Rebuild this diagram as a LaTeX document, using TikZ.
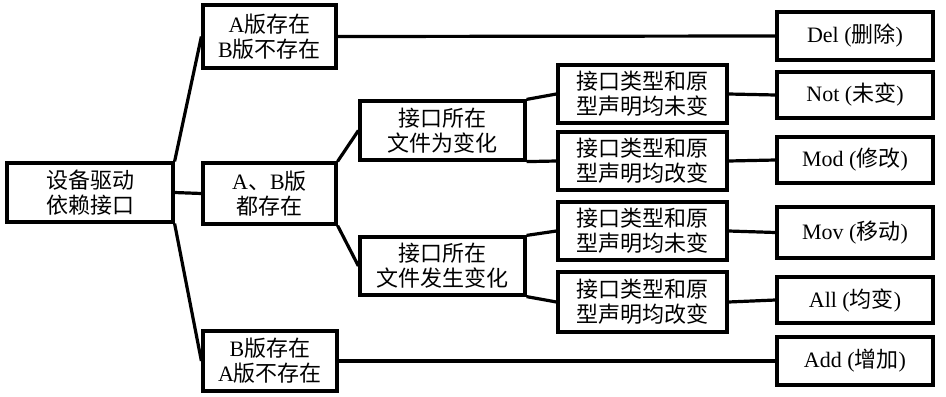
\documentclass[tikz,border=0pt]{standalone}
\usepackage{fontspec}
\setmainfont{Noto Sans CJK SC}
\newfontfamily\lat{Liberation Serif}
\usetikzlibrary{positioning}

\begin{document}
\begin{tikzpicture}[x=0.5pt, y=-0.5pt, font=\fontsize{11}{12.5}\selectfont,
  line width=1.6pt,
  tbox/.style={draw, align=center, inner sep=0pt, line width=1.6pt},
  rbox/.style={tbox, minimum width=78pt, minimum height=24pt}]
  \useasboundingbox (0,0) rectangle (946,396);
  % tree
  \node[tbox, minimum width=83pt, minimum height=29.5pt] at (90,192.5) (root) {设备驱动\\依赖接口};
  \node[tbox, minimum width=66.5pt, minimum height=31.5pt] at (269.5,36.5) (aonly) {{\lat A}版存在\\{\lat B}版不存在};
  \node[tbox, minimum width=66.5pt, minimum height=30.5pt] at (269.5,193.5) (ab) {{\lat A}、{\lat B}版\\都存在};
  \node[tbox, minimum width=67pt, minimum height=30pt] at (270,361) (bonly) {{\lat B}版存在\\{\lat A}版不存在};
  \node[tbox, minimum width=82.5pt, minimum height=29.5pt] at (442.5,130.5) (same) {接口所在\\文件为变化};
  \node[tbox, minimum width=82.5pt, minimum height=29pt] at (442.5,266) (moved) {接口所在\\文件发生变化};
  \node[tbox, minimum width=84.5pt, minimum height=29pt] at (642.5,94) (l1) {接口类型和原\\型声明均未变};
  \node[tbox, minimum width=84.5pt, minimum height=29pt] at (642.5,161) (l2) {接口类型和原\\型声明均改变};
  \node[tbox, minimum width=84.5pt, minimum height=29pt] at (642.5,231) (l3) {接口类型和原\\型声明均未变};
  \node[tbox, minimum width=84.5pt, minimum height=30pt] at (642.5,302) (l4) {接口类型和原\\型声明均改变};
  % results
  \node[rbox] at (855,36) (del) {{\lat Del (}删除{\lat )}};
  \node[rbox, minimum height=23pt] at (855,95) (not) {{\lat Not (}未变{\lat )}};
  \node[rbox, minimum height=23pt] at (855,160) (mod) {{\lat Mod (}修改{\lat )}};
  \node[rbox, minimum height=25.5pt] at (855,232.5) (mov) {{\lat Mov (}移动{\lat )}};
  \node[rbox, minimum height=23pt] at (855,300) (all) {{\lat All (}均变{\lat )}};
  \node[rbox] at (855,361) (add) {{\lat Add (}增加{\lat )}};
  \draw (root.north east) -- (aonly.west);
  \draw (root.east) -- (ab.west);
  \draw (root.south east) -- (bonly.west);
  \draw (ab.north east) -- (same.west);
  \draw (ab.south east) -- (moved.west);
  \draw (same.north east) -- (l1.west);
  \draw (same.south east) -- (l2.west);
  \draw (moved.north east) -- (l3.west);
  \draw (moved.south east) -- (l4.west);
  \foreach \a/\b in {aonly/del,l1/not,l2/mod,l3/mov,l4/all,bonly/add}
     \draw (\a.east) -- (\b.west);
\end{tikzpicture}
\end{document}
